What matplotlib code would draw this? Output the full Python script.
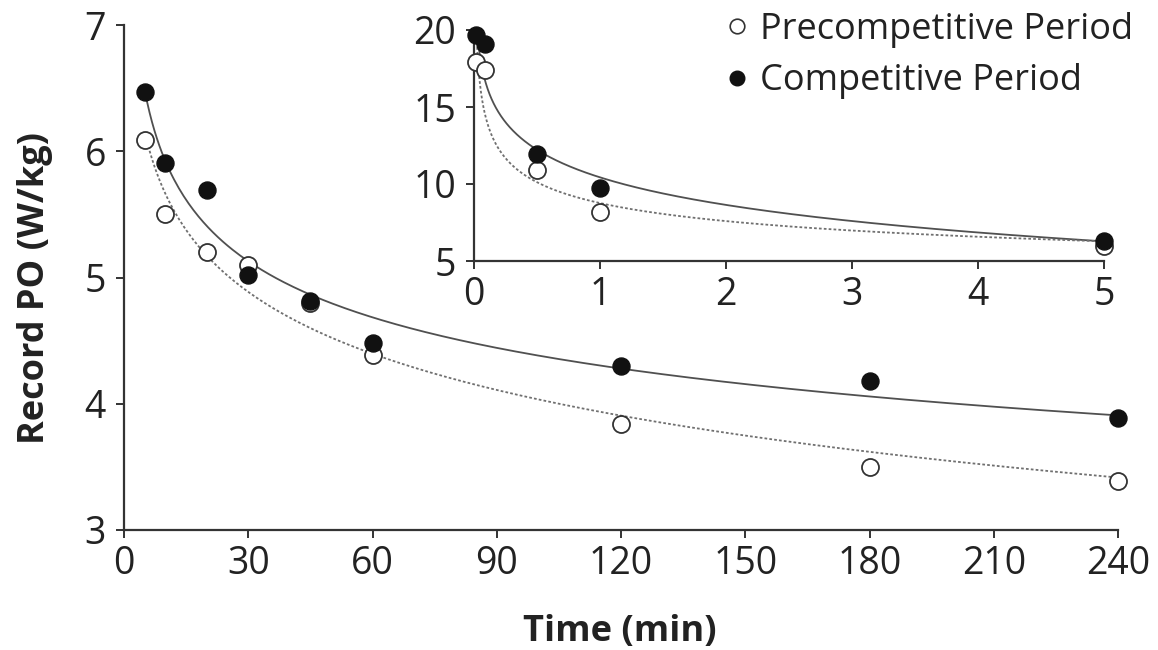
import numpy as np
import matplotlib
matplotlib.use("Agg")
import matplotlib.pyplot as plt
from matplotlib.lines import Line2D

plt.rcParams['font.family'] = ['Open Sans', 'DejaVu Sans']

# ---- data (main panel, minutes) ----
time_min = [5, 10, 20, 30, 45, 60, 120, 180, 240]
precomp_po = [6.09, 5.50, 5.20, 5.10, 4.80, 4.39, 3.84, 3.50, 3.39]
comp_po = [6.47, 5.91, 5.69, 5.02, 4.81, 4.48, 4.30, 4.18, 3.89]

# ---- data (inset, minutes) ----
inset_time = [1/60, 5/60, 0.5, 1, 5]
inset_precomp = [17.9, 17.4, 10.9, 8.2, 6.0]
inset_comp = [19.7, 19.1, 11.95, 9.74, 6.3]

main_xticks = [0, 30, 60, 90, 120, 150, 180, 210, 240]
main_yticks = [3, 4, 5, 6, 7]
inset_xticks = [0, 1, 2, 3, 4, 5]
inset_yticks = [5, 10, 15, 20]

W, H = 1158, 650
fig = plt.figure(figsize=(W/100, H/100), dpi=100)

axc = '#333333'
txt = '#222222'
line_solid = '#505050'
line_dash = '#707070'

def style(ax):
    for s in ['top', 'right']:
        ax.spines[s].set_visible(False)
    for s in ['left', 'bottom']:
        ax.spines[s].set_color(axc)
        ax.spines[s].set_linewidth(1.6)
    ax.tick_params(direction='out', length=6, width=1.4, color=axc,
                   labelsize=27, labelcolor=txt)
    ax.tick_params(axis='x', pad=5)
    ax.tick_params(axis='y', pad=7)

def power_fit(t, p):
    b, a = np.polyfit(np.log(t), np.log(p), 1)
    return lambda x: np.exp(a) * x ** b

def log_fit(t, p):
    b, a = np.polyfit(np.log(t), p, 1)
    return lambda x: a + b * np.log(x)

# ---- main axes ----
ax = fig.add_axes([124/W, 1-530/H, (1118-124)/W, (530-25)/H])
style(ax)
tt = np.linspace(time_min[0], time_min[-1], 400)
fc = power_fit(time_min, comp_po)
fp = log_fit(time_min, precomp_po)
ax.plot(tt, fc(tt), color=line_solid, lw=1.3, zorder=2)
ax.plot(tt, fp(tt), color=line_dash, lw=1.3, ls=(0, (1.5, 1.2)), zorder=2)
ax.scatter(time_min, precomp_po, s=150, facecolor='white', edgecolor='#333333',
           linewidth=1.3, zorder=3, clip_on=False)
ax.scatter(time_min, comp_po, s=150, facecolor='#111111', edgecolor='#111111',
           linewidth=1.0, zorder=4, clip_on=False)
ax.set_xlim(0, 240)
ax.set_ylim(3, 7)
ax.set_xticks(main_xticks)
ax.set_yticks(main_yticks)
ax.set_xlabel('Time (min)', fontsize=26, fontweight='bold', color=txt)
ax.set_ylabel('Record PO (W/kg)', fontsize=26, fontweight='bold', color=txt)
ax.xaxis.set_label_coords((620-124)/994, (530-632)/505)
ax.xaxis.label.set_va('center')
ax.yaxis.set_label_coords((35-124)/994, (530-288)/505)
ax.yaxis.label.set_va('center')

# ---- inset ----
ai = fig.add_axes([474/W, 1-261/H, (1104-474)/W, (261-30)/H])
style(ai)
ti = np.linspace(inset_time[0], inset_time[-1], 2000)
gc = log_fit(inset_time, inset_comp)
gp = power_fit(inset_time, inset_precomp)
ai.plot(ti, gc(ti), color=line_solid, lw=1.3, zorder=2)
ai.plot(ti, gp(ti), color=line_dash, lw=1.3, ls=(0, (1.5, 1.2)), zorder=2)
ai.scatter(inset_time, inset_precomp, s=150, facecolor='white', edgecolor='#333333',
           linewidth=1.3, zorder=3, clip_on=False)
ai.scatter(inset_time, inset_comp, s=150, facecolor='#111111', edgecolor='#111111',
           linewidth=1.0, zorder=4, clip_on=False)
ai.set_xlim(0, 5)
ai.set_ylim(5, 20)
ai.set_xticks(inset_xticks)
ai.set_yticks(inset_yticks)
ai.patch.set_alpha(0)

# ---- legend ----
handles = [
    Line2D([], [], ls='none', marker='o', markersize=10.5, markerfacecolor='white',
           markeredgecolor='#333333', markeredgewidth=1.2),
    Line2D([], [], ls='none', marker='o', markersize=10.5, markerfacecolor='#111111',
           markeredgecolor='#111111'),
]
fig.legend(handles, ['Precompetitive Period', 'Competitive Period'],
           loc='upper left', bbox_to_anchor=(728/W, 1-12/H), frameon=False,
           fontsize=26, handlelength=0.5, handletextpad=0.4, labelspacing=0.42,
           borderaxespad=0, borderpad=0, labelcolor=txt)

fig.savefig('out.png', dpi=100)
